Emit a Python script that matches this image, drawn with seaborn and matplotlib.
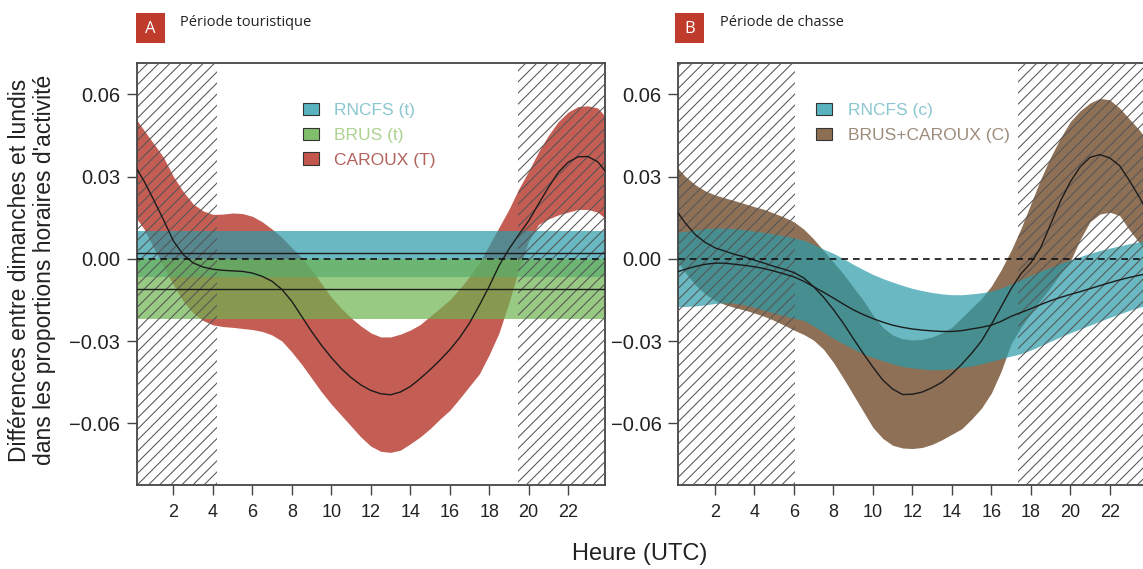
import matplotlib
matplotlib.use("Agg")
import matplotlib.pyplot as plt
from matplotlib.patches import Patch, Rectangle
import pandas as pd
import seaborn as sns

# ---------------- data ----------------
hours = [i * 0.5 for i in range(49)]

# Panel A : tourist period (CAROUX curve + band)
caroux_t_mid = [0.0345, 0.0285, 0.0215, 0.0142, 0.0065, 0.0015, -0.0015, -0.003, -0.0038, -0.0042,
                -0.0044, -0.0046, -0.0052, -0.0064, -0.0082, -0.0112, -0.0155, -0.021, -0.0265,
                -0.0315, -0.036, -0.040, -0.0433, -0.046, -0.048, -0.0492, -0.0496, -0.0486,
                -0.0466, -0.0437, -0.0405, -0.037, -0.0332, -0.0288, -0.0235, -0.017, -0.0101,
                -0.0025, 0.0035, 0.0088, 0.0138, 0.020, 0.026, 0.0315, 0.0352, 0.0372, 0.0373,
                0.0354, 0.031]
caroux_t_hi = [0.052, 0.047, 0.042, 0.037, 0.030, 0.0245, 0.020, 0.0175, 0.0162, 0.0163, 0.0167,
               0.0165, 0.0155, 0.0135, 0.0108, 0.0078, 0.004, 0.0005, -0.004, -0.009, -0.014,
               -0.018, -0.0215, -0.0245, -0.027, -0.0285, -0.0285, -0.0275, -0.026, -0.024, -0.021,
               -0.018, -0.015, -0.011, -0.0065, -0.0015, 0.005, 0.0115, 0.018, 0.0255, 0.032,
               0.039, 0.045, 0.050, 0.0535, 0.0555, 0.0558, 0.055, 0.051]
caroux_t_lo = [0.016, 0.011, 0.004, -0.0028, -0.0095, -0.0155, -0.0198, -0.0225, -0.0241, -0.0247,
               -0.025, -0.0254, -0.0258, -0.0265, -0.0278, -0.030, -0.034, -0.0385, -0.0435,
               -0.0485, -0.053, -0.057, -0.061, -0.065, -0.0683, -0.0702, -0.0706, -0.0698,
               -0.0675, -0.065, -0.062, -0.0585, -0.0553, -0.051, -0.0465, -0.042, -0.035, -0.027,
               -0.016, -0.004, 0.0065, 0.0125, 0.0145, 0.016, 0.017, 0.018, 0.018, 0.017, 0.014]
# constant (hour-independent) effects
rncfs_t = {"mid": 0.002, "lo": -0.0068, "hi": 0.010}
brus_t = {"mid": -0.011, "lo": -0.022, "hi": 0.000}

# Panel B : hunting period
bc_c_mid = [0.018, 0.013, 0.0088, 0.006, 0.004, 0.0028, 0.0016, 0.0007, -0.0005, -0.0016, -0.0028,
            -0.0038, -0.005, -0.007, -0.0102, -0.014, -0.0185, -0.0235, -0.029, -0.0344, -0.0395,
            -0.0442, -0.0475, -0.0495, -0.0494, -0.0486, -0.047, -0.045, -0.042, -0.0385, -0.0345,
            -0.030, -0.024, -0.0175, -0.011, -0.0055, -0.0015, 0.004, 0.0125, 0.021, 0.028,
            0.0335, 0.037, 0.038, 0.0368, 0.034, 0.0285, 0.0225, 0.016]
bc_c_hi = [0.034, 0.030, 0.027, 0.0248, 0.0233, 0.0222, 0.0212, 0.0201, 0.019, 0.018, 0.0166,
           0.0152, 0.0135, 0.0108, 0.0072, 0.003, -0.0012, -0.0055, -0.0103, -0.015, -0.0205,
           -0.025, -0.0278, -0.0292, -0.0296, -0.0294, -0.0285, -0.027, -0.025, -0.0215, -0.018,
           -0.0145, -0.010, -0.004, 0.003, 0.011, 0.020, 0.029, 0.037, 0.044, 0.050, 0.054,
           0.0568, 0.0585, 0.058, 0.055, 0.051, 0.047, 0.042]
bc_c_lo = [0.000, -0.005, -0.0095, -0.0128, -0.0152, -0.0167, -0.0178, -0.0187, -0.0198, -0.021,
           -0.0225, -0.0242, -0.026, -0.0276, -0.0297, -0.033, -0.0378, -0.0435, -0.0495, -0.0555,
           -0.0615, -0.0655, -0.068, -0.069, -0.0692, -0.0688, -0.0677, -0.066, -0.064, -0.062,
           -0.0585, -0.0545, -0.049, -0.041, -0.031, -0.025, -0.020, -0.015, -0.0105, -0.0055,
           -0.001, 0.007, 0.0135, 0.0163, 0.017, 0.0158, 0.0105, 0.0058, 0.002]
rncfs_c_mid = [-0.005, -0.0038, -0.0028, -0.002, -0.0016, -0.0016, -0.002, -0.0024, -0.0029,
               -0.0036, -0.0045, -0.0055, -0.0066, -0.0082, -0.0102, -0.0122, -0.0143, -0.0165,
               -0.0186, -0.0203, -0.0218, -0.0231, -0.0242, -0.025, -0.0256, -0.026, -0.0263,
               -0.0265, -0.0265, -0.0262, -0.0256, -0.025, -0.0242, -0.0228, -0.021, -0.0196,
               -0.0182, -0.0167, -0.0153, -0.0141, -0.013, -0.012, -0.0109, -0.0098, -0.0087,
               -0.0077, -0.0068, -0.006, -0.0053]
rncfs_c_hi = [0.0095, 0.010, 0.0105, 0.011, 0.0112, 0.0112, 0.011, 0.0106, 0.0101, 0.0096, 0.009,
              0.0084, 0.0076, 0.0068, 0.0052, 0.0035, 0.002, 0.0001, -0.002, -0.0039, -0.0057,
              -0.0072, -0.0085, -0.0097, -0.0108, -0.0116, -0.0123, -0.0128, -0.0131, -0.0131,
              -0.0128, -0.0124, -0.0118, -0.0107, -0.0092, -0.0076, -0.006, -0.0045, -0.0031,
              -0.0017, -0.0004, 0.0008, 0.002, 0.003, 0.0039, 0.0047, 0.0055, 0.0062, 0.0069]
rncfs_c_lo = [-0.0175, -0.0174, -0.0172, -0.0168, -0.0163, -0.016, -0.0162, -0.0168, -0.0177,
              -0.0188, -0.0198, -0.0208, -0.0217, -0.0225, -0.0245, -0.0268, -0.029, -0.031,
              -0.0328, -0.0347, -0.036, -0.0372, -0.0383, -0.0393, -0.0398, -0.0402, -0.0405,
              -0.0404, -0.0401, -0.0396, -0.0391, -0.0383, -0.0374, -0.0364, -0.0355, -0.0346,
              -0.0333, -0.0317, -0.0301, -0.0285, -0.027, -0.0256, -0.0242, -0.0228, -0.0214,
              -0.0201, -0.0188, -0.0177, -0.0166]

night_A = [(0.0, 4.23), (19.48, 24.0)]
night_B = [(0.0, 6.05), (17.36, 24.0)]

y_ticks = [-0.06, -0.03, 0.00, 0.03, 0.06]
y_tick_labels = ["\u22120.06", "\u22120.03", "0.00", "0.03", "0.06"]
x_ticks = list(range(2, 24, 2))
x_tick_labels = [str(v) for v in x_ticks]

labels_A = ["RNCFS (t)", "BRUS (t)", "CAROUX (T)"]
labels_B = ["RNCFS (c)", "BRUS+CAROUX (C)"]
titles = ["Période touristique", "Période de chasse"]
panel_letters = ["A", "B"]

# ---------------- style ----------------
sns.set_theme(style="ticks")
plt.rcParams["font.family"] = ["Liberation Sans", "DejaVu Sans"]
plt.rcParams["hatch.linewidth"] = 0.75

RED = (190 / 255, 75 / 255, 65 / 255)
TEAL = (41 / 255, 155 / 255, 169 / 255)
GREEN = (110 / 255, 180 / 255, 80 / 255)
BROWN = (130 / 255, 97 / 255, 68 / 255)
LINE = "#1c1c1c"
AXC = "#444444"
FONT = ["Liberation Sans", "DejaVu Sans"]

fig = plt.figure(figsize=(11.43, 5.69), dpi=100)
W, H = 1143, 569
ax_w = (605 - 136.7) / W
ax_h = (485 - 63.3) / H
axA = fig.add_axes([136.7 / W, (H - 485) / H, ax_w, ax_h])
axB = fig.add_axes([678.3 / W, (H - 485) / H, ax_w, ax_h])

XLIM = (0.14, 23.87)
YLIM = (-0.0825, 0.0713)


def style_axis(ax, nights):
    ax.set_xlim(*XLIM)
    ax.set_ylim(*YLIM)
    for a, b in nights:
        ax.axvspan(a, b, fill=False, hatch="///", edgecolor="#555555", lw=0, zorder=3)
    ax.axhline(0, color="#111111", lw=1.2, ls=(0, (4, 3)), zorder=5)
    ax.set_yticks(y_ticks)
    ax.set_yticklabels(y_tick_labels, fontfamily=FONT, fontsize=14.5)
    ax.set_xticks(x_ticks)
    ax.set_xticklabels(x_tick_labels, fontfamily=FONT, fontsize=13)
    ax.tick_params(axis="both", direction="out", length=7, width=1, colors=AXC,
                   labelcolor="#222222")
    ax.tick_params(axis="y", pad=5)
    ax.tick_params(axis="x", pad=7)
    for s in ax.spines.values():
        s.set_color(AXC)
        s.set_linewidth(1.3)
        s.set_visible(True)
    ax.set_xlabel("")
    ax.set_ylabel("")


def band_line(ax, lo, hi, mid, color, alpha):
    df = pd.DataFrame({"hour": hours, "lo": lo, "hi": hi, "mid": mid})
    ax.fill_between(df["hour"], df["lo"], df["hi"], color=color, alpha=alpha, lw=0, zorder=2)
    sns.lineplot(data=df, x="hour", y="mid", ax=ax, color=LINE, lw=1.0, zorder=4)


# ---------------- panel A ----------------
band_line(axA, caroux_t_lo, caroux_t_hi, caroux_t_mid, RED, 0.9)
n = len(hours)
band_line(axA, [rncfs_t["lo"]] * n, [rncfs_t["hi"]] * n, [rncfs_t["mid"]] * n, TEAL, 0.7)
band_line(axA, [brus_t["lo"]] * n, [brus_t["hi"]] * n, [brus_t["mid"]] * n, GREEN, 0.7)
style_axis(axA, night_A)

legend_kw = dict(loc="upper left", frameon=False, handlelength=0.9, handleheight=0.75,
                 handletextpad=0.9, labelspacing=0.55, prop={"family": FONT, "size": 12.5})
hA = [Patch(facecolor=(0.35, 0.70, 0.75), edgecolor="#333333", lw=0.8),
      Patch(facecolor=(0.50, 0.75, 0.42), edgecolor="#333333", lw=0.8),
      Patch(facecolor=(0.77, 0.34, 0.30), edgecolor="#333333", lw=0.8)]
axA.legend(hA, labels_A, bbox_to_anchor=(0.3215, 0.944),
           labelcolor=["#8ac7d0", "#acd291", "#b3625c"], **legend_kw)

# ---------------- panel B ----------------
band_line(axB, bc_c_lo, bc_c_hi, bc_c_mid, BROWN, 0.9)
band_line(axB, rncfs_c_lo, rncfs_c_hi, rncfs_c_mid, TEAL, 0.7)
style_axis(axB, night_B)

hB = [Patch(facecolor=(0.35, 0.70, 0.75), edgecolor="#333333", lw=0.8),
      Patch(facecolor=(0.55, 0.43, 0.32), edgecolor="#333333", lw=0.8)]
axB.legend(hB, labels_B, bbox_to_anchor=(0.2615, 0.944),
           labelcolor=["#8ac7d0", "#9d8c7b"], **legend_kw)

# ---------------- shared texts ----------------
fig.text(32 / W, 1 - 270 / H,
         "Différences entre dimanches et lundis\ndans les proportions horaires d'activité",
         rotation=90, ha="center", va="center", fontsize=16.5, linespacing=1.15,
         color="#222222", family=FONT)
fig.text(640 / W, 1 - 554 / H, "Heure (UTC)", ha="center", va="center", fontsize=17,
         color="#222222", family=FONT)

for (x0, xt), letter, title in zip([(136, 180), (675, 720)], panel_letters, titles):
    fig.add_artist(Rectangle((x0 / W, 1 - 43 / H), 29 / W, 30 / H, transform=fig.transFigure,
                             facecolor="#bf3b2c", edgecolor="none"))
    fig.text((x0 + 14.5) / W, 1 - 29 / H, letter, ha="center", va="center", color="white",
             fontsize=12, family=["Open Sans", "DejaVu Sans"])
    fig.text(xt / W, 1 - 22 / H, title, ha="left", va="center", color="#222222",
             fontsize=10.5, family=["Open Sans", "DejaVu Sans"])

fig.savefig("out.png", dpi=100)
